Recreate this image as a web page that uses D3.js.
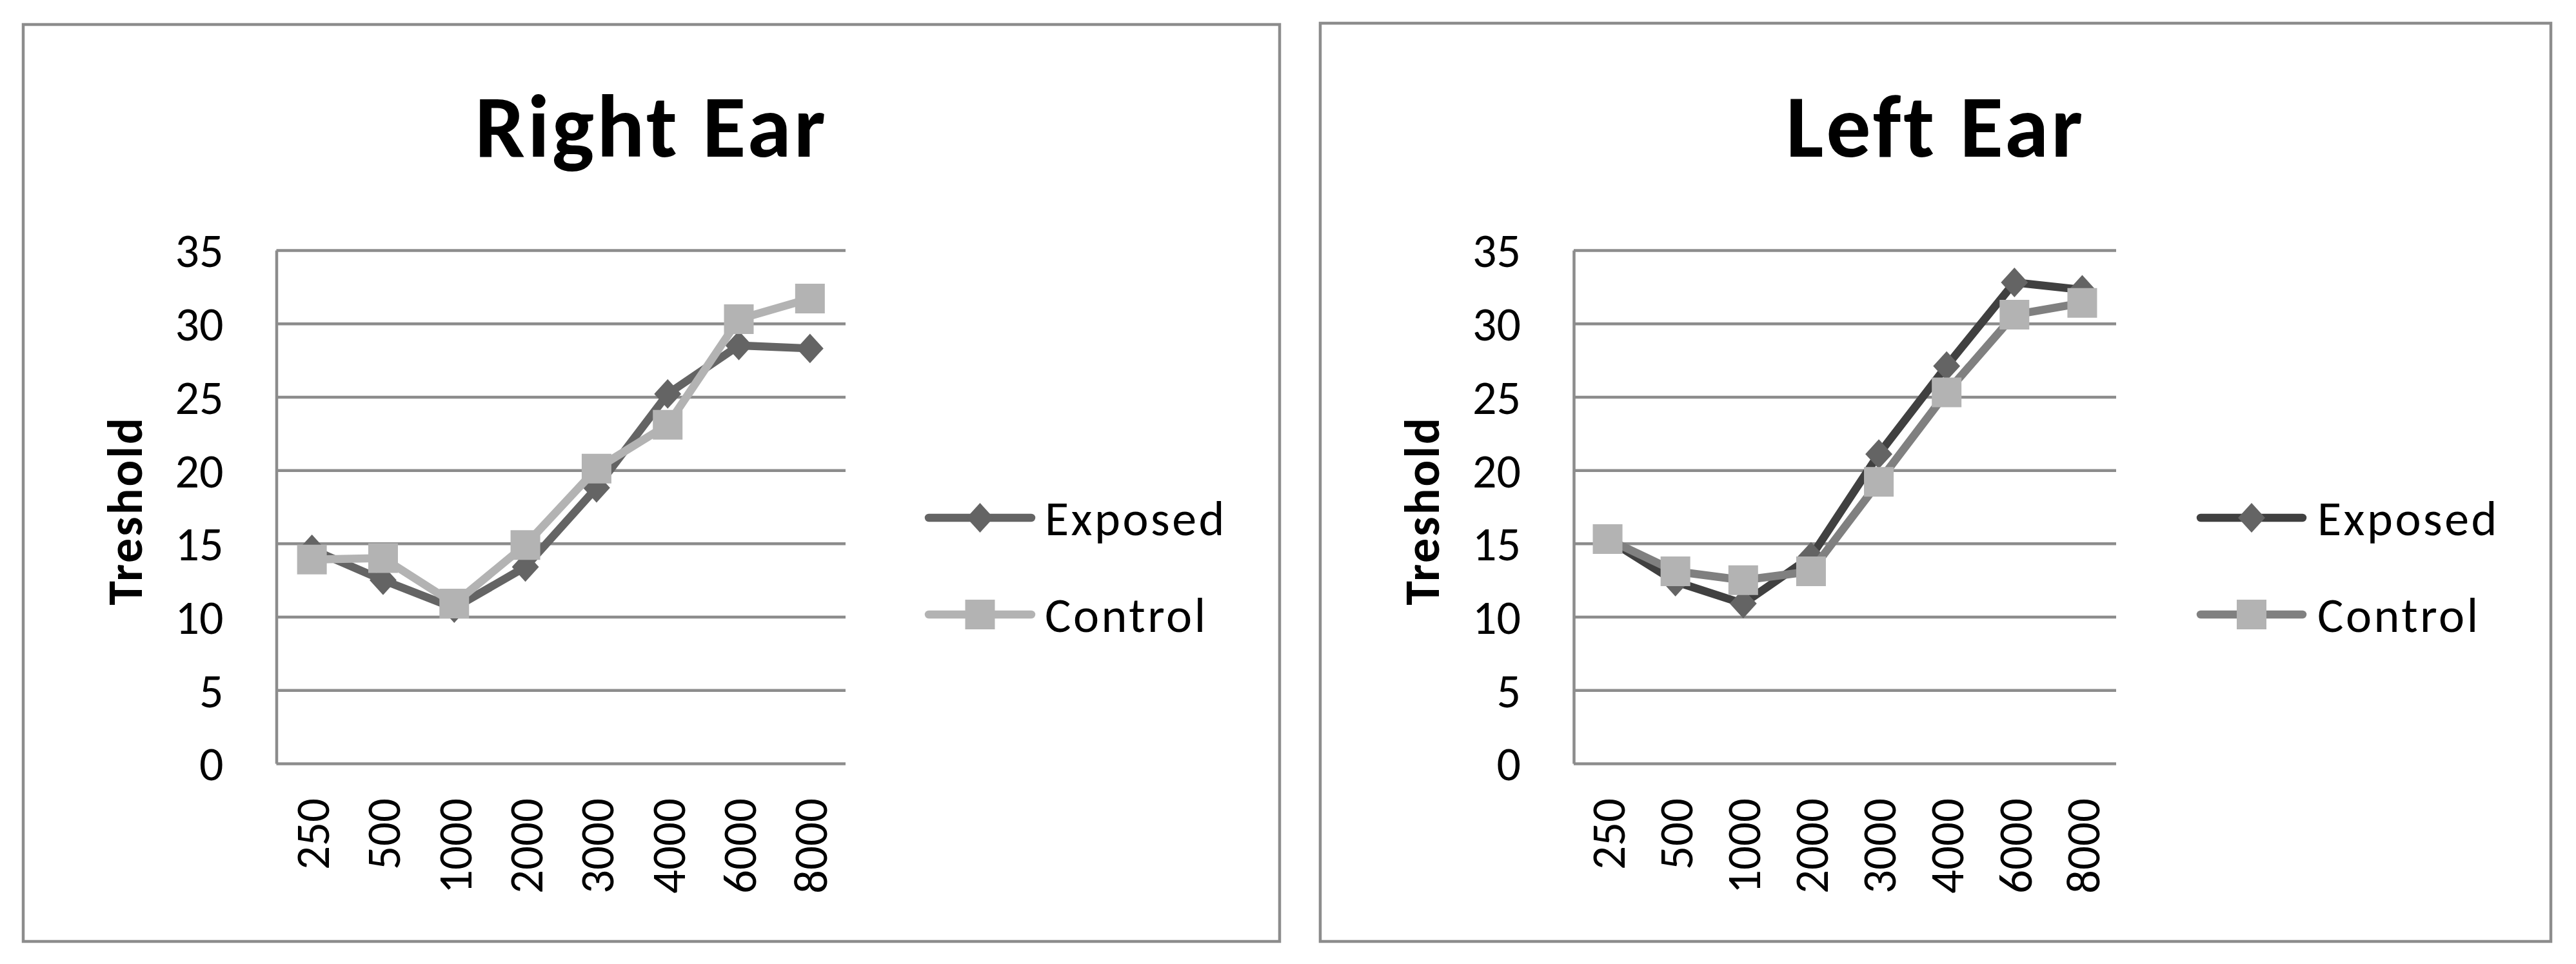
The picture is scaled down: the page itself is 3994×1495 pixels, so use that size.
<!DOCTYPE html>
<html>
<head>
<meta charset="utf-8">
<script src="https://cdn.jsdelivr.net/npm/d3@7"></script>
<style>
  html, body { margin: 0; padding: 0; background: #ffffff; }
  svg { display: block; }
  text { font-family: Carlito, Lato, "Open Sans", sans-serif; fill: #000; }
</style>
</head>
<body>
<svg id="chart" width="3994" height="1495"></svg>
<script>
// ---------------- data ----------------
const categories = ["250", "500", "1000", "2000", "3000", "4000", "6000", "8000"];
const seriesNames = ["Exposed", "Control"];
const yTicks = [0, 5, 10, 15, 20, 25, 30, 35];
const panelTitles = ["Right Ear", "Left Ear"];
const yAxisTitle = "Treshold";

const rightExposed = [14.6, 12.5, 10.6, 13.4, 18.8, 25.2, 28.5, 28.3];
const rightControl = [13.9, 14.0, 10.9, 14.9, 20.1, 23.1, 30.3, 31.7];
const leftExposed  = [15.3, 12.4, 10.9, 14.1, 21.1, 27.1, 32.8, 32.3];
const leftControl  = [15.3, 13.1, 12.5, 13.1, 19.2, 25.3, 30.6, 31.4];

// ---------------- layout / style ----------------
const FONT = "Carlito, Lato, 'Open Sans', sans-serif";
const GRID = "#8c8c8c";

const panels = [
  {
    title: panelTitles[0],
    series: [rightExposed, rightControl],
    box: { x0: 36, y0: 38, x1: 1984, y1: 1460 },
    plot: { x0: 428.5, x1: 1311, y0: 388, y1: 1184 },
    lineColors: ["#646464", "#b3b3b3"],
    markerColors: ["#646464", "#b3b3b3"],
    legend: { lx0: 1434, lx1: 1605, tx: 1620, ys: [803, 953] }
  },
  {
    title: panelTitles[1],
    series: [leftExposed, leftControl],
    box: { x0: 2047, y0: 36, x1: 3955, y1: 1460 },
    plot: { x0: 2440, x1: 3281, y0: 388, y1: 1184 },
    lineColors: ["#404040", "#808080"],
    markerColors: ["#646464", "#b3b3b3"],
    legend: { lx0: 3406, lx1: 3576, tx: 3593, ys: [803, 953] }
  }
];

// custom diamond symbol (slightly taller than wide)
const diamondType = {
  draw(ctx, size) {
    const r = Math.sqrt(size) / 2;
    const hw = r * 0.93, hh = r * 1.02;
    ctx.moveTo(0, -hh);
    ctx.lineTo(hw, 0);
    ctx.lineTo(0, hh);
    ctx.lineTo(-hw, 0);
    ctx.closePath();
  }
};
const markerTypes = [diamondType, d3.symbolSquare];
const markerSizes = [45 * 45, 46 * 46];

const svg = d3.select("#chart");
svg.append("rect").attr("width", 3994).attr("height", 1495).attr("fill", "#fff");

panels.forEach(p => {
  const g = svg.append("g");

  // outer frame
  g.append("rect")
    .attr("x", p.box.x0).attr("y", p.box.y0)
    .attr("width", p.box.x1 - p.box.x0).attr("height", p.box.y1 - p.box.y0)
    .attr("fill", "#fff").attr("stroke", GRID).attr("stroke-width", 4.5);

  const x = d3.scaleBand().domain(categories).range([p.plot.x0, p.plot.x1]).padding(0);
  const y = d3.scaleLinear().domain([0, 35]).range([p.plot.y1, p.plot.y0]);
  const cx = c => x(c) + x.bandwidth() / 2;
  const w = p.plot.x1 - p.plot.x0;

  // y axis with gridlines
  const yAxis = g.append("g")
    .attr("transform", `translate(${p.plot.x0},0)`)
    .call(d3.axisLeft(y).tickValues(yTicks).tickSize(-w).tickSizeOuter(0).tickPadding(82));
  yAxis.select(".domain").attr("stroke", GRID).attr("stroke-width", 4.5);
  yAxis.selectAll(".tick line").attr("stroke", GRID).attr("stroke-width", 4.5);
  yAxis.selectAll(".tick text")
    .attr("font-family", FONT).attr("font-size", 74).attr("fill", "#000").attr("dy", "0.35em");

  // x axis labels (rotated)
  const xAxis = g.append("g")
    .attr("transform", `translate(0,${p.plot.y1})`)
    .call(d3.axisBottom(x).tickSize(0).tickSizeOuter(0));
  xAxis.select(".domain").remove();
  xAxis.selectAll(".tick text")
    .attr("font-family", FONT).attr("font-size", 73).attr("fill", "#000")
    .attr("transform", "rotate(-90)")
    .attr("text-anchor", "end")
    .attr("x", -54).attr("y", 0).attr("dy", "0.36em");

  // series lines
  p.series.forEach((vals, i) => {
    const line = d3.line().x((d, j) => cx(categories[j])).y(d => y(d));
    g.append("path").datum(vals)
      .attr("d", line).attr("fill", "none")
      .attr("stroke", p.lineColors[i]).attr("stroke-width", 12.5)
      .attr("stroke-linejoin", "round").attr("stroke-linecap", "round");
    g.selectAll(null).data(vals).enter().append("path")
      .attr("d", d3.symbol().type(markerTypes[i]).size(markerSizes[i]))
      .attr("transform", (d, j) => `translate(${cx(categories[j])},${y(d)})`)
      .attr("fill", p.markerColors[i]);
  });

  // title
  g.append("text")
    .attr("x", (p.box.x0 + p.box.x1) / 2).attr("y", 243)
    .attr("text-anchor", "middle")
    .attr("font-family", FONT).attr("font-weight", "bold").attr("font-size", 138)
    .attr("letter-spacing", 4)
    .text(p.title);

  // y axis title
  g.append("text")
    .attr("transform", `translate(${p.plot.x0 - 209},${(p.plot.y0 + p.plot.y1) / 2 + 6}) rotate(-90)`)
    .attr("text-anchor", "middle")
    .attr("font-family", FONT).attr("font-weight", "bold").attr("font-size", 76)
    .attr("letter-spacing", 3)
    .text(yAxisTitle);

  // legend
  seriesNames.forEach((name, i) => {
    const ly = p.legend.ys[i];
    g.append("line")
      .attr("x1", p.legend.lx0 + 6).attr("x2", p.legend.lx1 - 6)
      .attr("y1", ly).attr("y2", ly)
      .attr("stroke", p.lineColors[i]).attr("stroke-width", 12.5)
      .attr("stroke-linecap", "round");
    g.append("path")
      .attr("d", d3.symbol().type(markerTypes[i]).size(markerSizes[i])())
      .attr("transform", `translate(${(p.legend.lx0 + p.legend.lx1) / 2},${ly})`)
      .attr("fill", p.markerColors[i]);
    g.append("text")
      .attr("x", p.legend.tx).attr("y", ly).attr("dy", "0.36em")
      .attr("font-family", FONT).attr("font-size", 76)
      .attr("letter-spacing", 3.5)
      .text(name);
  });
});
</script>
</body>
</html>
